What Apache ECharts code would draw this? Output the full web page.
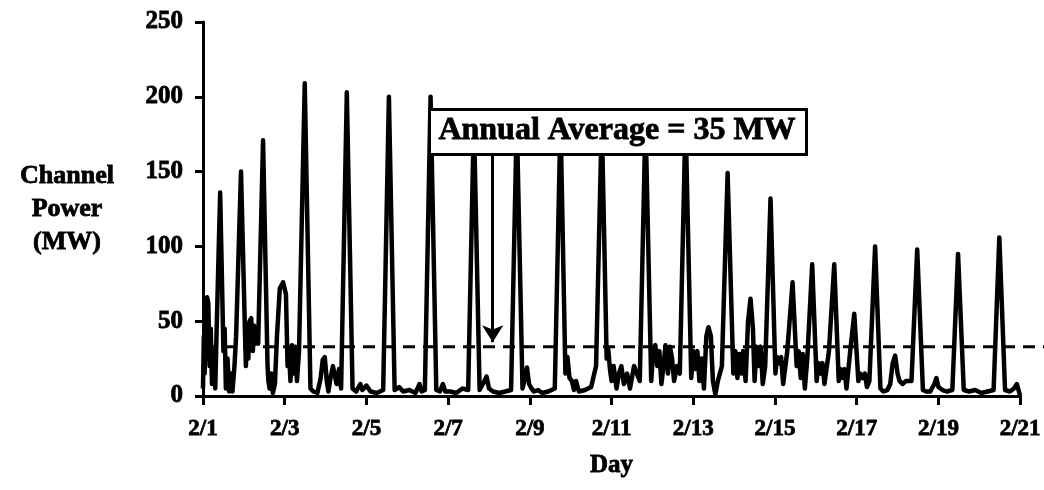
<!DOCTYPE html>
<html>
<head>
<meta charset="UTF-8">
<title>Channel Power</title>
<script src="https://cdn.jsdelivr.net/npm/echarts@6/dist/echarts.min.js"></script>
<style>
  body { margin: 0; background: #fff; }
  #chart { width: 1044px; height: 490px; }
</style>
</head>
<body>
<div id="chart"></div>
<script>
// x tick labels, one every 2 days
var dayLabels = ['2/1', '2/3', '2/5', '2/7', '2/9', '2/11', '2/13', '2/15', '2/17', '2/19', '2/21'];
var yTicks = [0, 50, 100, 150, 200, 250];
// dashed line (drawn level of the annual average)
var averageLine = [33, 33];
// where the annotation arrow sits: [day, from MW, to MW]
var arrowAt = [7.09, 162, 36];

// [day since 2/1, MW]
var channelPower = [
  [0, 5], [0.02, 40], [0.04, 15], [0.07, 60], [0.10, 66], [0.13, 62], [0.16, 20], [0.19, 45],
  [0.22, 8], [0.26, 30], [0.30, 5], [0.33, 40], [0.42, 136], [0.50, 30], [0.53, 45], [0.56, 5],
  [0.60, 25], [0.64, 3], [0.68, 15], [0.72, 3], [0.77, 20], [0.81, 40], [0.93, 150], [1.03, 40],
  [1.05, 20], [1.08, 48], [1.11, 25], [1.14, 50], [1.18, 52], [1.22, 30], [1.25, 47], [1.28, 35],
  [1.32, 45], [1.35, 35], [1.47, 171], [1.58, 20], [1.60, 10], [1.63, 5], [1.67, 15], [1.71, 2],
  [1.76, 8], [1.81, 40], [1.88, 72], [1.96, 76], [2.03, 68], [2.07, 20], [2.10, 33], [2.14, 10],
  [2.18, 34], [2.22, 15], [2.26, 33], [2.30, 10], [2.35, 30], [2.49, 209], [2.63, 5], [2.70, 3],
  [2.80, 2], [2.88, 12], [2.93, 24], [2.98, 26], [3.03, 10], [3.07, 3], [3.12, 12], [3.18, 20],
  [3.22, 21], [3.27, 8], [3.33, 18], [3.38, 5], [3.52, 203], [3.66, 5], [3.75, 3], [3.85, 8],
  [3.90, 4], [4.00, 7], [4.10, 3], [4.25, 2], [4.41, 4], [4.55, 200], [4.69, 4], [4.80, 6],
  [4.90, 3], [5.05, 4], [5.20, 2], [5.30, 8], [5.35, 3], [5.43, 4], [5.57, 200], [5.71, 4],
  [5.80, 3], [5.87, 8], [5.93, 3], [6.05, 3], [6.20, 2], [6.35, 5], [6.49, 4], [6.63, 185],
  [6.77, 4], [6.85, 8], [6.94, 13], [7.00, 5], [7.10, 3], [7.25, 2], [7.40, 3], [7.54, 4],
  [7.68, 185], [7.82, 5], [7.88, 12], [7.93, 19], [7.98, 8], [8.04, 5], [8.10, 3], [8.20, 4],
  [8.30, 2], [8.45, 3], [8.61, 5], [8.75, 185], [8.87, 15], [8.92, 26], [8.97, 12], [9.03, 10],
  [9.08, 4], [9.13, 10], [9.20, 3], [9.35, 4], [9.50, 6], [9.62, 20], [9.76, 185], [9.88, 25],
  [9.92, 31], [9.96, 18], [10.00, 10], [10.05, 20], [10.12, 5], [10.18, 15], [10.24, 20], [10.30, 8],
  [10.38, 15], [10.45, 5], [10.55, 20], [10.69, 10], [10.83, 185], [10.97, 10], [11.02, 30], [11.07, 34],
  [11.12, 20], [11.17, 30], [11.22, 8], [11.27, 20], [11.32, 34], [11.38, 15], [11.43, 33], [11.48, 25],
  [11.53, 10], [11.60, 20], [11.67, 15], [11.81, 185], [11.95, 12], [12.00, 30], [12.05, 18], [12.10, 30],
  [12.15, 10], [12.20, 25], [12.26, 5], [12.32, 40], [12.37, 46], [12.43, 40], [12.48, 10], [12.54, 1],
  [12.60, 10], [12.70, 20], [12.84, 149], [12.98, 15], [13.03, 30], [13.08, 12], [13.13, 28], [13.18, 15],
  [13.22, 30], [13.28, 10], [13.34, 50], [13.40, 65], [13.46, 45], [13.50, 10], [13.55, 33], [13.60, 20],
  [13.65, 33], [13.70, 8], [13.76, 20], [13.89, 132], [14.01, 15], [14.05, 26], [14.10, 22], [14.15, 26],
  [14.20, 8], [14.30, 30], [14.43, 76], [14.53, 20], [14.58, 30], [14.63, 12], [14.68, 28], [14.73, 5],
  [14.79, 25], [14.91, 88], [15.02, 10], [15.06, 22], [15.11, 15], [15.16, 22], [15.21, 8], [15.32, 30],
  [15.45, 88], [15.56, 10], [15.60, 18], [15.65, 12], [15.70, 18], [15.75, 5], [15.84, 30], [15.94, 55],
  [16.04, 10], [16.09, 15], [16.15, 12], [16.20, 15], [16.25, 6], [16.31, 10], [16.45, 100], [16.58, 5],
  [16.65, 3], [16.75, 4], [16.82, 8], [16.88, 22], [16.94, 27], [17.00, 15], [17.05, 10], [17.12, 8],
  [17.20, 10], [17.34, 10], [17.48, 98], [17.62, 4], [17.70, 3], [17.80, 3], [17.90, 8], [17.95, 12],
  [18.00, 6], [18.10, 4], [18.20, 3], [18.34, 4], [18.48, 95], [18.62, 4], [18.75, 3], [18.90, 4],
  [19.05, 2], [19.20, 3], [19.35, 4], [19.49, 106], [19.63, 4], [19.75, 3], [19.85, 5], [19.92, 8],
  [19.97, 3], [20.00, 0]
];

var font = 'Liberation Serif';
var boldText = { fontFamily: font, fontWeight: 'bold', color: '#000', textBorderColor: '#000', textBorderWidth: 0.8 };
var chart = echarts.init(document.getElementById('chart'));
var option = {
  animation: false,
  backgroundColor: '#fff',
  grid: [
    { left: 203, right: 23, top: 22, bottom: 94 },
    { left: 203, right: 0, top: 22, bottom: 94 }
  ],
  xAxis: [
    {
      type: 'value', min: 0, max: 20, interval: 2,
      name: 'Day', nameLocation: 'middle', nameGap: 57,
      nameTextStyle: Object.assign({ fontSize: 25 }, boldText),
      axisLine: { lineStyle: { color: '#000', width: 3 } },
      axisTick: { inside: false, length: 9, lineStyle: { color: '#000', width: 3 } },
      axisLabel: Object.assign({
        margin: 22, fontSize: 23,
        formatter: function (v) { return dayLabels[Math.round(v / 2)]; }
      }, boldText),
      splitLine: { show: false }
    },
    { gridIndex: 1, type: 'value', min: 0, max: 1, show: false }
  ],
  yAxis: [
    {
      type: 'value', min: yTicks[0], max: yTicks[yTicks.length - 1], interval: 50,
      name: 'Channel\nPower\n(MW)', nameLocation: 'middle', nameRotate: 0, nameGap: 136,
      nameTextStyle: Object.assign({ fontSize: 26, align: 'center', verticalAlign: 'middle', lineHeight: 33 }, boldText),
      axisLine: { show: true, lineStyle: { color: '#000', width: 3 } },
      axisTick: { show: true, length: 8, lineStyle: { color: '#000', width: 3 } },
      axisLabel: Object.assign({ margin: 20, fontSize: 25 }, boldText),
      splitLine: { show: false }
    },
    { gridIndex: 1, type: 'value', min: 0, max: 250, show: false }
  ],
  series: [
    {
      type: 'line', xAxisIndex: 1, yAxisIndex: 1, symbol: 'none', silent: true,
      data: [[0, averageLine[0]], [1, averageLine[1]]],
      lineStyle: { color: '#000', width: 3, type: [12, 8] },
      z: 1
    },
    {
      type: 'line', symbol: 'none', data: channelPower,
      lineStyle: { color: '#000', width: 4.5, join: 'round' },
      z: 2,
      markLine: {
        silent: true, symbol: ['none', 'arrow'], symbolSize: [16, 17],
        label: { show: false },
        lineStyle: { color: '#000', width: 3, type: 'solid' },
        data: [[{ coord: [arrowAt[0], arrowAt[1]] }, { coord: [arrowAt[0], arrowAt[2]] }]]
      }
    }
  ],
  graphic: [
    {
      type: 'rect', left: 428, top: 108, z: 100,
      shape: { width: 377, height: 45 },
      style: { fill: '#fff', stroke: '#000', lineWidth: 3 }
    },
    {
      type: 'text', x: 617, y: 131, z: 101,
      style: {
        text: 'Annual Average = 35 MW', fill: '#000', stroke: '#000', lineWidth: 0.8,
        font: 'bold 32px "Liberation Serif"', textAlign: 'center', textVerticalAlign: 'middle'
      }
    }
  ]
};
chart.setOption(option);
</script>
</body>
</html>
